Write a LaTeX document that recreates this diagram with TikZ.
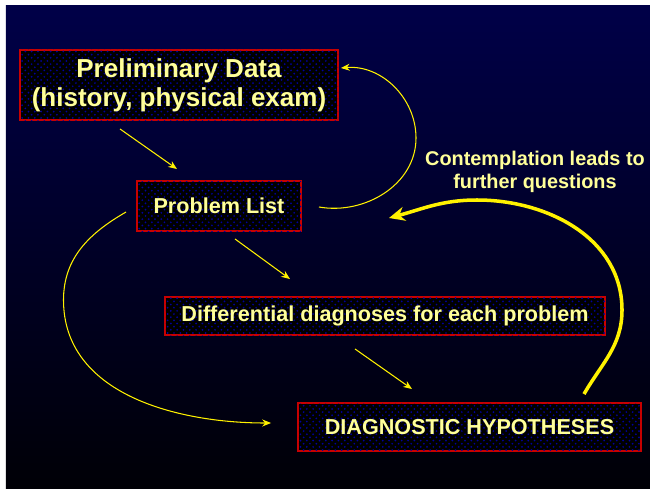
\documentclass[tikz,border=0pt]{standalone}
\usepackage{fontspec}
\setmainfont{Liberation Sans}
\usetikzlibrary{arrows.meta,patterns}
\definecolor{navy}{RGB}{0,0,72}
\definecolor{deepnavy}{RGB}{0,0,6}
\definecolor{pale}{RGB}{255,255,153}
\definecolor{boxred}{RGB}{200,0,0}
\definecolor{dotblue}{RGB}{0,0,160}
\pgfdeclarepatternformonly{bigdots}{\pgfpoint{-1pt}{-1pt}}{\pgfpoint{4pt}{4pt}}{\pgfpoint{3.6pt}{3.6pt}}{%
  \pgfpathcircle{\pgfpointorigin}{0.55pt}
  \pgfpathcircle{\pgfpoint{1.8pt}{1.8pt}}{0.55pt}
  \pgfusepath{fill}}
\begin{document}
\begin{tikzpicture}[>={Stealth[length=5pt,width=4pt]},
  box/.style={draw=boxred, line width=1.1pt, fill=black,
    postaction={pattern=bigdots, pattern color=dotblue},
    text=pale, font=\bfseries\fontsize{12.3}{14}\selectfont, align=center, inner sep=0pt},
  link/.style={->, yellow, line width=0.6pt},
  backlink/.style={-{Stealth[length=9pt,width=8pt]}, yellow, line width=2pt}]
  \useasboundingbox (0,0) rectangle (13,-9.76);
  \fill[white] (0,0) rectangle (13,-9.76);
  \shade[top color=navy, bottom color=deepnavy] (0.12,-0.12) rectangle (13,-9.76);

  \node[box, minimum width=6.36cm, minimum height=1.40cm, font=\bfseries\fontsize{14.8}{16.5}\selectfont]
    (prelim) at (3.58,-1.70) {Preliminary Data\\(history, physical exam)};
  \node[box, minimum width=3.28cm, minimum height=1.00cm] (problems) at (4.38,-4.12) {Problem List};
  \node[box, minimum width=8.80cm, minimum height=0.76cm] (diff) at (7.70,-6.32) {Differential diagnoses for each problem};
  \node[box, minimum width=6.86cm, minimum height=0.96cm] (hypo) at (9.39,-8.54) {DIAGNOSTIC HYPOTHESES};
  \node[text=pale, font=\bfseries\fontsize{11.3}{13.2}\selectfont, align=center]
    (note) at (10.70,-3.44) {Contemplation leads to\\further questions};

  \draw[link] ([shift={(-1.18,-0.16)}]prelim.south) -- ([shift={(-0.84,0.22)}]problems.north);
  \draw[link] ([shift={(0.32,-0.14)}]problems.south) -- ([shift={(-1.90,0.34)}]diff.north);
  \draw[link] ([shift={(-0.60,-0.26)}]diff.south) -- ([shift={(-1.15,0.26)}]hypo.north);

  \draw[link] ([shift={(0.34,-0.02)}]problems.east) to[out=-10,in=-90] (8.32,-2.76)
    to[out=90,in=5] ([shift={(0.04,0.34)}]prelim.east);
  \draw[link] ([shift={(-0.20,-0.12)}]problems.west) to[out=-150,in=90] (1.27,-6.00)
    to[out=-90,in=180] ([shift={(-0.52,0.08)}]hypo.west);
  \draw[backlink] ([shift={(2.29,0.16)}]hypo.north) to[out=60,in=-90] (12.44,-6.20)
    to[out=90,in=0] (9.54,-4.00) to[out=180,in=15] ([shift={(1.74,-0.24)}]problems.east);
\end{tikzpicture}
\end{document}
